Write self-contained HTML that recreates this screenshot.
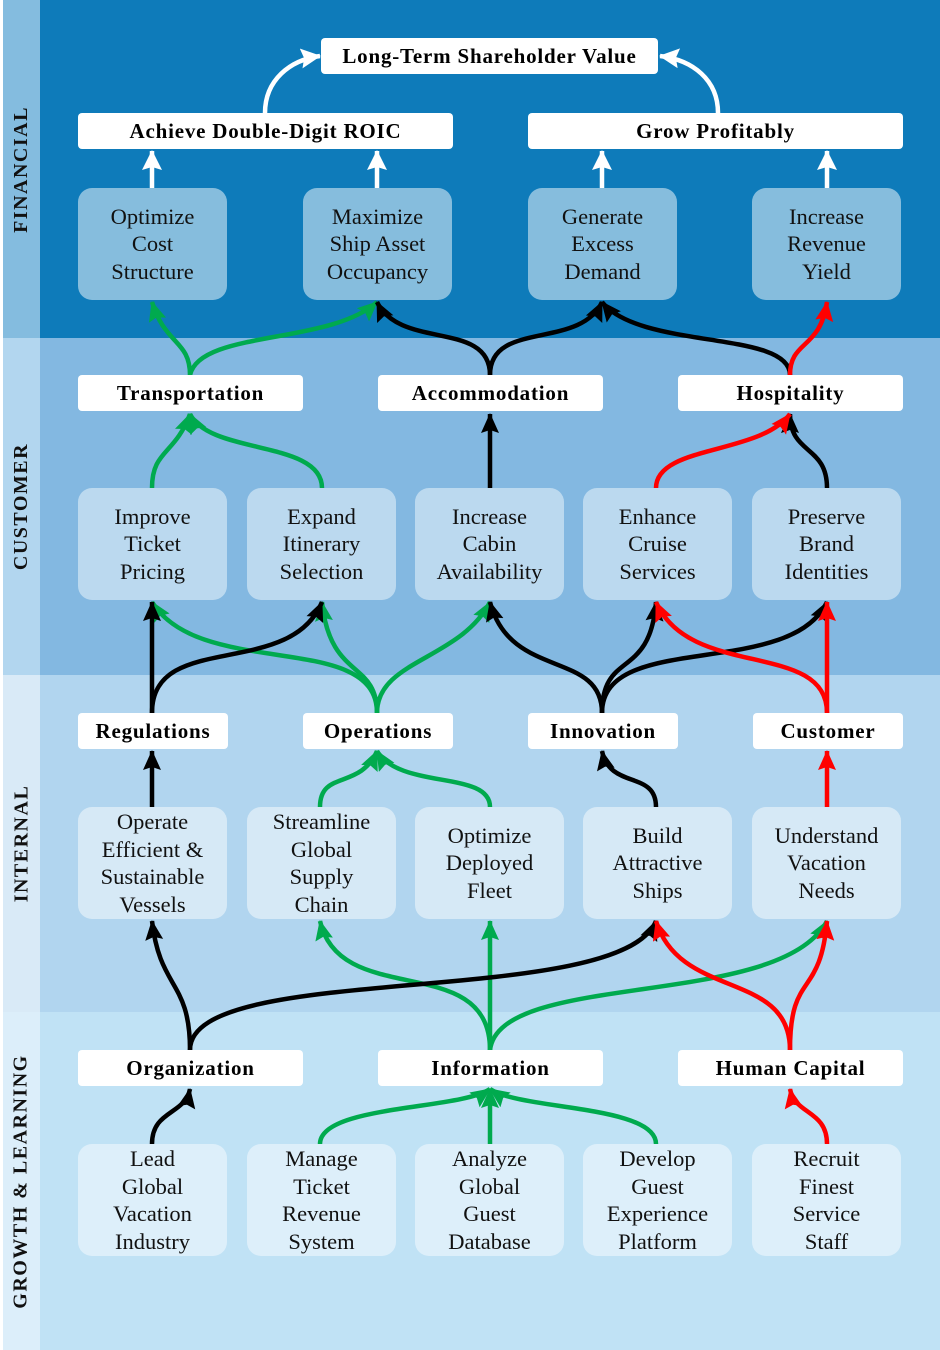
<!DOCTYPE html>
<html><head><meta charset="utf-8"><style>
body{margin:0;width:940px;height:1350px;position:relative;font-family:"Liberation Serif",serif;overflow:hidden;background:#fff}
.band{position:absolute;left:40px;width:900px}
.side{position:absolute;left:3px;width:37px}
.lab{position:absolute;left:3px;width:37px;display:flex;align-items:center;justify-content:center}
.lab span{transform:rotate(-90deg);white-space:nowrap;font-weight:bold;font-size:20px;letter-spacing:1.5px;color:#111}
.h{position:absolute;background:#fff;border-radius:4px;font-weight:bold;font-size:21px;letter-spacing:0.8px;display:flex;align-items:center;justify-content:center;color:#000;height:36px}
.b{position:absolute;width:149px;height:112px;border-radius:14px;display:flex;align-items:center;justify-content:center;text-align:center;font-size:22.5px;line-height:27.5px;color:#111}
svg{position:absolute;left:0;top:0}
</style></head><body>
<div class="band" style="top:0;height:338px;background:#0E7BBA"></div>
<div class="side" style="top:0;height:338px;background:#84BCDF"></div>
<div class="band" style="top:338px;height:337px;background:#83B8E1"></div>
<div class="side" style="top:338px;height:337px;background:#B2D6EF"></div>
<div class="band" style="top:675px;height:337px;background:#B1D5EF"></div>
<div class="side" style="top:675px;height:337px;background:#D9EAF7"></div>
<div class="band" style="top:1012px;height:338px;background:#C0E2F5"></div>
<div class="side" style="top:1012px;height:338px;background:#DCEEFA"></div>
<div class="lab" style="top:0;height:338px"><span>FINANCIAL</span></div>
<div class="lab" style="top:338px;height:337px"><span>CUSTOMER</span></div>
<div class="lab" style="top:675px;height:337px"><span>INTERNAL</span></div>
<div class="lab" style="top:1012px;height:338px"><span>GROWTH &amp; LEARNING</span></div>

<svg width="940" height="1350" viewBox="0 0 940 1350">
<defs>
<marker id="aw" markerUnits="userSpaceOnUse" markerWidth="24" markerHeight="24" refX="19" refY="10" orient="auto"><path d="M0,0 L20,10 L0,20 L3,10Z" fill="#fff"/></marker>
<marker id="ak" markerUnits="userSpaceOnUse" markerWidth="24" markerHeight="24" refX="19" refY="9" orient="auto"><path d="M0,0 L20,9 L0,18 L3,9Z" fill="#000"/></marker>
<marker id="ag" markerUnits="userSpaceOnUse" markerWidth="24" markerHeight="24" refX="19" refY="9" orient="auto"><path d="M0,0 L20,9 L0,18 L3,9Z" fill="#00AA4E"/></marker>
<marker id="ar" markerUnits="userSpaceOnUse" markerWidth="24" markerHeight="24" refX="19" refY="9" orient="auto"><path d="M0,0 L20,9 L0,18 L3,9Z" fill="#FF0000"/></marker>
</defs>
<g fill="none" stroke-width="4.5">
<g stroke="#fff" marker-end="url(#aw)">
<path d="M152,188 V151"/><path d="M377,188 V151"/><path d="M602,188 V151"/><path d="M827,188 V151"/>
<path d="M265,113 C265,80 290,60 320,56"/><path d="M718,113 C718,80 693,60 660,56"/>
</g>
<g stroke="#00AA4E" marker-end="url(#ag)">
<path d="M190,375 C190,340 165,345 152,302"/>
<path d="M190,375 C200,330 330,345 377,302"/>
<path d="M152,488 C152,450 175,455 190,414"/>
<path d="M322,488 C322,440 210,455 190,414"/>
<path d="M377,713 C377,630 200,680 152,602"/>
<path d="M377,713 C377,660 330,680 322,602"/>
<path d="M377,713 C377,660 460,660 490,602"/>
<path d="M320,807 C320,770 360,790 377,751"/>
<path d="M490,807 C490,770 400,790 377,751"/>
<path d="M490,1050 C490,950 340,1010 320,921"/>
<path d="M490,1050 V921"/>
<path d="M490,1050 C500,970 780,1010 827,921"/>
<path d="M320,1144 C320,1105 460,1110 490,1089"/>
<path d="M490,1144 V1089"/>
<path d="M656,1144 C656,1105 520,1110 490,1089"/>
</g>
<g stroke="#000" marker-end="url(#ak)">
<path d="M490,375 C490,320 400,350 377,302"/>
<path d="M490,375 C490,320 580,350 602,302"/>
<path d="M790,375 C790,330 640,350 602,302"/>
<path d="M490,488 V414"/>
<path d="M827,488 C827,445 790,455 790,414"/>
<path d="M152,713 V602"/>
<path d="M152,713 C152,630 290,680 322,602"/>
<path d="M602,713 C602,650 510,680 490,602"/>
<path d="M602,713 C602,650 650,680 656,602"/>
<path d="M602,713 C602,630 790,680 827,602"/>
<path d="M152,807 V751"/>
<path d="M656,807 C656,770 610,790 602,751"/>
<path d="M190,1050 C190,980 160,990 152,921"/>
<path d="M190,1050 C190,960 620,1010 656,921"/>
<path d="M152,1144 C152,1110 185,1115 190,1089"/>
</g>
<g stroke="#FF0000" marker-end="url(#ar)">
<path d="M790,375 C790,340 820,350 827,302"/>
<path d="M656,488 C656,445 760,455 790,414"/>
<path d="M827,713 C827,640 690,680 656,602"/>
<path d="M827,713 V602"/>
<path d="M827,807 V751"/>
<path d="M790,1050 C790,970 680,1000 656,921"/>
<path d="M790,1050 C790,970 820,1000 827,921"/>
<path d="M827,1144 C827,1110 795,1115 790,1089"/>
</g>
</g>
</svg>

<div class="h" style="left:321px;top:38px;width:337px">Long-Term Shareholder Value</div>
<div class="h" style="left:78px;top:113px;width:375px">Achieve Double-Digit ROIC</div>
<div class="h" style="left:528px;top:113px;width:375px">Grow Profitably</div>
<div class="b" style="left:78px;top:188px;background:#86BDDD">Optimize<br>Cost<br>Structure</div>
<div class="b" style="left:303px;top:188px;background:#86BDDD">Maximize<br>Ship Asset<br>Occupancy</div>
<div class="b" style="left:528px;top:188px;background:#86BDDD">Generate<br>Excess<br>Demand</div>
<div class="b" style="left:752px;top:188px;background:#86BDDD">Increase<br>Revenue<br>Yield</div>

<div class="h" style="left:78px;top:375px;width:225px">Transportation</div>
<div class="h" style="left:378px;top:375px;width:225px">Accommodation</div>
<div class="h" style="left:678px;top:375px;width:225px">Hospitality</div>
<div class="b" style="left:78px;top:488px;background:#BBD9EF">Improve<br>Ticket<br>Pricing</div>
<div class="b" style="left:247px;top:488px;background:#BBD9EF">Expand<br>Itinerary<br>Selection</div>
<div class="b" style="left:415px;top:488px;background:#BBD9EF">Increase<br>Cabin<br>Availability</div>
<div class="b" style="left:583px;top:488px;background:#BBD9EF">Enhance<br>Cruise<br>Services</div>
<div class="b" style="left:752px;top:488px;background:#BBD9EF">Preserve<br>Brand<br>Identities</div>

<div class="h" style="left:78px;top:713px;width:150px">Regulations</div>
<div class="h" style="left:303px;top:713px;width:150px">Operations</div>
<div class="h" style="left:528px;top:713px;width:150px">Innovation</div>
<div class="h" style="left:753px;top:713px;width:150px">Customer</div>
<div class="b" style="left:78px;top:807px;background:#D6E9F6">Operate<br>Efficient &amp;<br>Sustainable<br>Vessels</div>
<div class="b" style="left:247px;top:807px;background:#D6E9F6">Streamline<br>Global<br>Supply<br>Chain</div>
<div class="b" style="left:415px;top:807px;background:#D6E9F6">Optimize<br>Deployed<br>Fleet</div>
<div class="b" style="left:583px;top:807px;background:#D6E9F6">Build<br>Attractive<br>Ships</div>
<div class="b" style="left:752px;top:807px;background:#D6E9F6">Understand<br>Vacation<br>Needs</div>

<div class="h" style="left:78px;top:1050px;width:225px">Organization</div>
<div class="h" style="left:378px;top:1050px;width:225px">Information</div>
<div class="h" style="left:678px;top:1050px;width:225px">Human Capital</div>
<div class="b" style="left:78px;top:1144px;background:#DDEFFA">Lead<br>Global<br>Vacation<br>Industry</div>
<div class="b" style="left:247px;top:1144px;background:#DDEFFA">Manage<br>Ticket<br>Revenue<br>System</div>
<div class="b" style="left:415px;top:1144px;background:#DDEFFA">Analyze<br>Global<br>Guest<br>Database</div>
<div class="b" style="left:583px;top:1144px;background:#DDEFFA">Develop<br>Guest<br>Experience<br>Platform</div>
<div class="b" style="left:752px;top:1144px;background:#DDEFFA">Recruit<br>Finest<br>Service<br>Staff</div>
</body></html>
